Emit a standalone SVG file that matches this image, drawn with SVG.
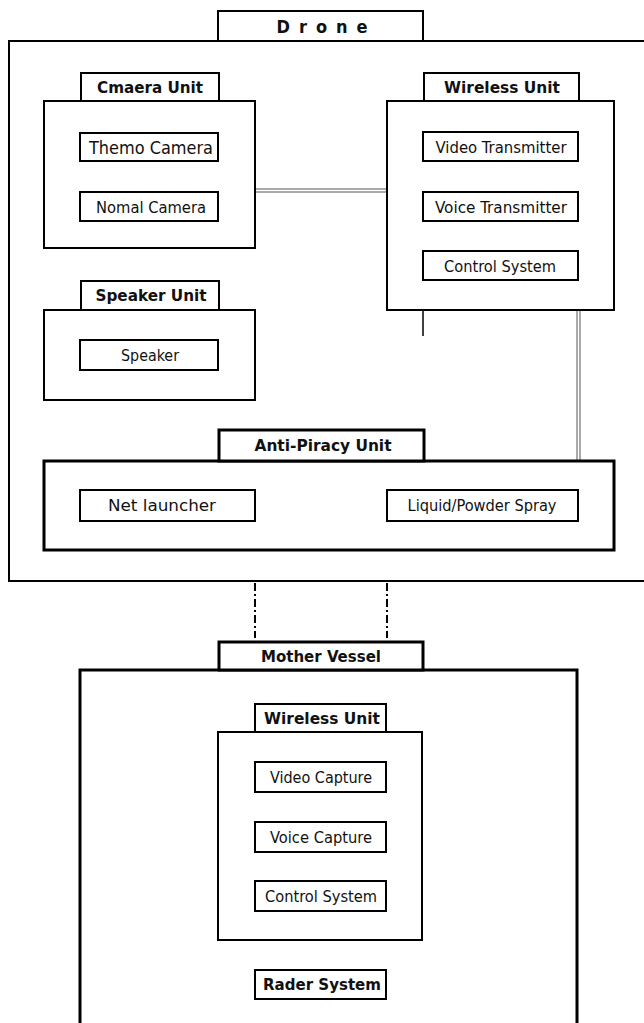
<svg xmlns="http://www.w3.org/2000/svg" width="644" height="1023" viewBox="0 0 644 1023">
<style>
.bx{fill:#fff;stroke:#000;stroke-width:2}
.bx3{fill:#fff;stroke:#000;stroke-width:3}
.it{fill:#fff;stroke:#000;stroke-width:2}
.t{font-family:"DejaVu Sans Condensed","DejaVu Sans",sans-serif;font-size:16px;fill:#111;text-anchor:middle}
.b{font-weight:bold;font-size:15px}
.dbl{stroke:#555;stroke-width:1;fill:none}
.dd{stroke:#000;stroke-width:2;fill:none;stroke-dasharray:8 3 2 3}
</style>
<rect width="644" height="1023" fill="#fff"/>
<g id="drone">
<rect class="bx" x="9" y="41" width="640" height="540"/>
<rect class="bx" x="218" y="11" width="205" height="30"/>
<text class="t b" x="322" y="33" style="font-size:18px" textLength="91" lengthAdjust="spacing">Drone</text>
</g>
<g id="connectors">
<line class="dbl" x1="255" y1="189" x2="387" y2="189"/>
<line class="dbl" x1="255" y1="192" x2="387" y2="192"/>
<line x1="423" y1="310" x2="423" y2="336" stroke="#000" stroke-width="1.5"/>
<line class="dbl" x1="577" y1="310" x2="577" y2="461"/>
<line class="dbl" x1="580" y1="310" x2="580" y2="461"/>
<line class="dd" x1="255" y1="583" x2="255" y2="638"/>
<line class="dd" x1="387" y1="583" x2="387" y2="638"/>
</g>
<g id="camera-unit">
<rect class="bx" x="44" y="101" width="211" height="147"/>
<rect class="bx" x="81" y="73" width="138" height="28"/>
<text class="t b" x="150" y="93" textLength="106" lengthAdjust="spacingAndGlyphs">Cmaera Unit</text>
</g>
<g id="themo-camera">
<rect class="it" x="80" y="133" width="138" height="28"/>
<text class="t" x="151" y="154" style="font-size:17px" textLength="124" lengthAdjust="spacingAndGlyphs">Themo Camera</text>
</g>
<g id="nomal-camera">
<rect class="it" x="80" y="192" width="138" height="29"/>
<text class="t" x="151" y="213" textLength="110" lengthAdjust="spacingAndGlyphs">Nomal Camera</text>
</g>
<g id="wireless-unit">
<rect class="bx" x="387" y="101" width="227" height="209"/>
<rect class="bx" x="424" y="73" width="155" height="28"/>
<text class="t b" x="502" y="93" textLength="116" lengthAdjust="spacingAndGlyphs">Wireless Unit</text>
</g>
<g id="video-transmitter">
<rect class="it" x="423" y="132" width="155" height="29"/>
<text class="t" x="501" y="153" textLength="131" lengthAdjust="spacingAndGlyphs">Video Transmitter</text>
</g>
<g id="voice-transmitter">
<rect class="it" x="423" y="192" width="155" height="29"/>
<text class="t" x="501" y="213" textLength="132" lengthAdjust="spacingAndGlyphs">Voice Transmitter</text>
</g>
<g id="control-system">
<rect class="it" x="423" y="251" width="155" height="29"/>
<text class="t" x="500" y="272" textLength="112" lengthAdjust="spacingAndGlyphs">Control System</text>
</g>
<g id="speaker-unit">
<rect class="bx" x="44" y="310" width="211" height="90"/>
<rect class="bx" x="81" y="281" width="138" height="29"/>
<text class="t b" x="151" y="301" textLength="111" lengthAdjust="spacingAndGlyphs">Speaker Unit</text>
</g>
<g id="speaker">
<rect class="it" x="80" y="340" width="138" height="30"/>
<text class="t" x="150" y="361" textLength="58" lengthAdjust="spacingAndGlyphs">Speaker</text>
</g>
<g id="anti-piracy-unit">
<rect class="bx3" x="44" y="461" width="570" height="89"/>
<rect class="bx3" x="219" y="430" width="205" height="31"/>
<text class="t b" x="323" y="451" textLength="137" lengthAdjust="spacingAndGlyphs">Anti-Piracy Unit</text>
</g>
<g id="net-launcher">
<rect class="it" x="80" y="490" width="175" height="31"/>
<text class="t" x="162" y="511" textLength="108" lengthAdjust="spacingAndGlyphs">Net launcher</text>
</g>
<g id="liquid-powder-spray">
<rect class="it" x="387" y="490" width="191" height="31"/>
<text class="t" x="482" y="511" textLength="149" lengthAdjust="spacingAndGlyphs">Liquid/Powder Spray</text>
</g>
<g id="mother-vessel">
<rect class="bx3" x="80" y="670" width="497" height="360"/>
<rect class="bx3" x="219" y="642" width="204" height="28"/>
<text class="t b" x="321" y="662" textLength="120" lengthAdjust="spacingAndGlyphs">Mother Vessel</text>
</g>
<g id="mv-wireless-unit">
<rect class="bx" x="218" y="732" width="204" height="208"/>
<rect class="bx" x="255" y="704" width="131" height="28"/>
<text class="t b" x="322" y="724" textLength="116" lengthAdjust="spacingAndGlyphs">Wireless Unit</text>
</g>
<g id="video-capture">
<rect class="it" x="255" y="762" width="131" height="30"/>
<text class="t" x="321" y="783" textLength="102" lengthAdjust="spacingAndGlyphs">Video Capture</text>
</g>
<g id="voice-capture">
<rect class="it" x="255" y="822" width="131" height="30"/>
<text class="t" x="321" y="843" textLength="102" lengthAdjust="spacingAndGlyphs">Voice Capture</text>
</g>
<g id="mv-control-system">
<rect class="it" x="255" y="881" width="131" height="30"/>
<text class="t" x="321" y="902" textLength="112" lengthAdjust="spacingAndGlyphs">Control System</text>
</g>
<g id="rader-system">
<rect class="it" x="255" y="970" width="131" height="29"/>
<text class="t b" x="322" y="990" textLength="118" lengthAdjust="spacingAndGlyphs">Rader System</text>
</g>
</svg>
